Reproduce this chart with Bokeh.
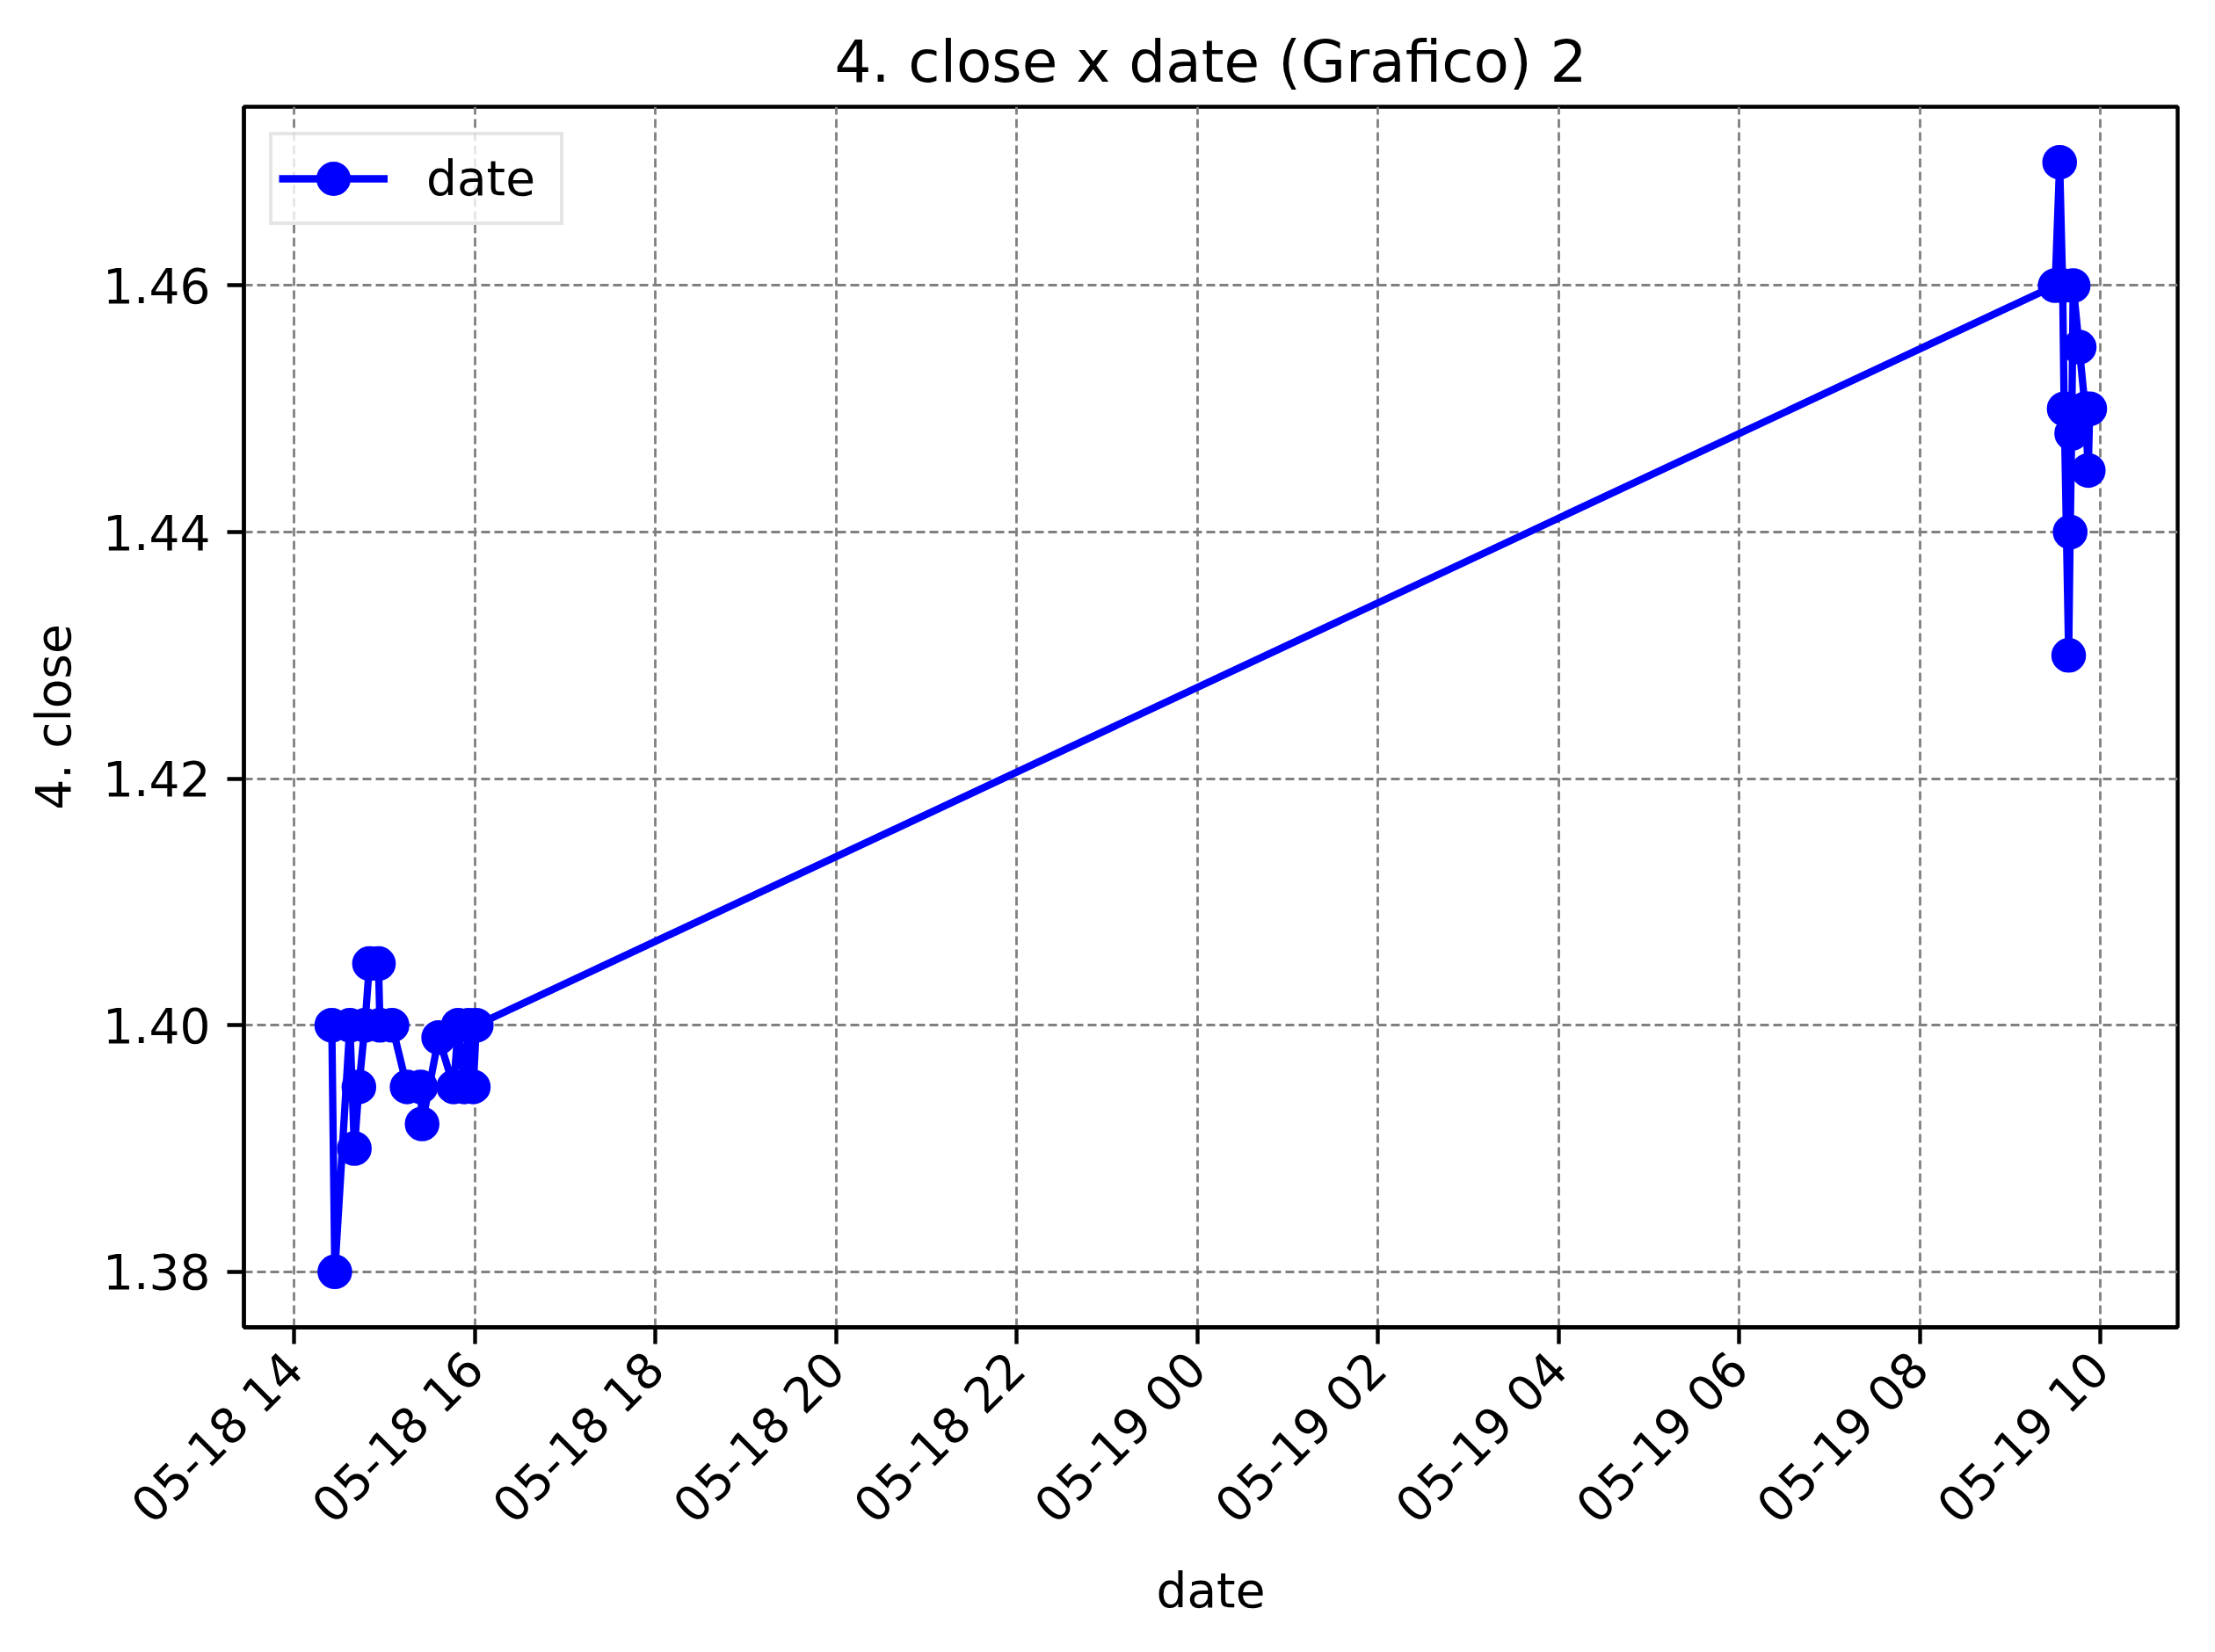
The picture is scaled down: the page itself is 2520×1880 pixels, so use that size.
import math
import pandas as pd
from bokeh.plotting import figure
from bokeh.models import FixedTicker, DatetimeTickFormatter, Range1d, NumeralTickFormatter
from bokeh.embed import file_html
from bokeh.resources import INLINE

# ---- data ----
dates = [
    "2020-05-18 14:25", "2020-05-18 14:27", "2020-05-18 14:37", "2020-05-18 14:40",
    "2020-05-18 14:43", "2020-05-18 14:47", "2020-05-18 14:50", "2020-05-18 14:56",
    "2020-05-18 14:57", "2020-05-18 15:05", "2020-05-18 15:15", "2020-05-18 15:24",
    "2020-05-18 15:25", "2020-05-18 15:36", "2020-05-18 15:46", "2020-05-18 15:49",
    "2020-05-18 15:53", "2020-05-18 15:56", "2020-05-18 15:59", "2020-05-18 16:01",
    "2020-05-19 09:30", "2020-05-19 09:33", "2020-05-19 09:35", "2020-05-19 09:36",
    "2020-05-19 09:39", "2020-05-19 09:40", "2020-05-19 09:41", "2020-05-19 09:42",
    "2020-05-19 09:46", "2020-05-19 09:50", "2020-05-19 09:52", "2020-05-19 09:53",
]
close = [
    1.400, 1.380, 1.400, 1.390,
    1.395, 1.400, 1.405, 1.405,
    1.400, 1.400, 1.395, 1.395,
    1.392, 1.399, 1.395, 1.400,
    1.395, 1.400, 1.395, 1.400,
    1.460, 1.470, 1.460, 1.450,
    1.430, 1.440, 1.448, 1.460,
    1.455, 1.450, 1.445, 1.450,
]
x_ticks = [
    "2020-05-18 14:00", "2020-05-18 16:00", "2020-05-18 18:00", "2020-05-18 20:00",
    "2020-05-18 22:00", "2020-05-19 00:00", "2020-05-19 02:00", "2020-05-19 04:00",
    "2020-05-19 06:00", "2020-05-19 08:00", "2020-05-19 10:00",
]
y_ticks = [1.38, 1.40, 1.42, 1.44, 1.46]

title_text = "4. close x date (Grafico) 2"
x_label = "date"
y_label = "4. close"
series_name = "date"

# ---- build ----
x = pd.to_datetime(dates)
xt = [t.value / 1e6 for t in pd.to_datetime(x_ticks)]
xs_ms = [t.value / 1e6 for t in x]
xspan = max(xs_ms) - min(xs_ms)
yspan = max(close) - min(close)

FONT = "DejaVu Sans"

p = figure(
    width=2504, height=1864,
    x_axis_type="datetime",
    output_backend="svg", toolbar_location=None,
    min_border_left=277, min_border_right=27,
    min_border_top=121, min_border_bottom=354,
    x_range=Range1d(min(xs_ms) - 0.05 * xspan, max(xs_ms) + 0.05 * xspan),
    y_range=Range1d(min(close) - 0.05 * yspan, max(close) + 0.05 * yspan),
)
p.background_fill_color = "white"
p.border_fill_color = "white"
p.outline_line_color = "black"
p.outline_line_width = 4.4

p.title.text = title_text
p.title.align = "center"
p.title.text_font = FONT
p.title.text_font_size = "66px"
p.title.text_font_style = "normal"
p.title.text_color = "black"
p.title.standoff = 26

p.line(x, close, line_color="blue", line_width=8.3, legend_label=series_name)
p.scatter(x, close, size=34, fill_color="blue", line_color="blue", line_width=5.5,
          legend_label=series_name)

p.xaxis.ticker = FixedTicker(ticks=xt)
p.xaxis.formatter = DatetimeTickFormatter(
    hours="%m-%d %H", hourmin="%m-%d %H", days="%m-%d %H", minutes="%m-%d %H",
    minsec="%m-%d %H", context=None,
)
p.xaxis.major_label_orientation = math.pi / 4
p.yaxis.ticker = FixedTicker(ticks=y_ticks)
p.yaxis.formatter = NumeralTickFormatter(format="0.00")
p.xaxis.axis_label = x_label
p.yaxis.axis_label = y_label

for ax in (p.xaxis, p.yaxis):
    ax.axis_line_color = "black"
    ax.axis_line_width = 4.4
    ax.major_tick_line_color = "black"
    ax.major_tick_line_width = 4.4
    ax.major_tick_out = 19
    ax.major_tick_in = 0
    ax.minor_tick_line_color = None
    ax.major_label_text_font = FONT
    ax.major_label_text_font_size = "55px"
    ax.major_label_text_color = "black"
    ax.major_label_standoff = 19
    ax.axis_label_text_font = FONT
    ax.axis_label_text_font_size = "55px"
    ax.axis_label_text_font_style = "normal"
    ax.axis_label_text_color = "black"
p.xaxis.axis_label_standoff = 6
p.yaxis.axis_label_standoff = 21

for g in (p.xgrid, p.ygrid):
    g.grid_line_color = "gray"
    g.grid_line_width = 2.8
    g.grid_line_dash = "10 5"

lg = p.legend[0]
lg.location = "top_left"
lg.margin = 29
lg.padding = 7
lg.spacing = 0
lg.glyph_width = 124
lg.glyph_height = 84
lg.label_height = 84
lg.label_width = 145
lg.label_standoff = 44
lg.label_text_font = FONT
lg.label_text_font_size = "55px"
lg.label_text_color = "black"
lg.border_line_color = "#cccccc"
lg.border_line_width = 4
lg.background_fill_alpha = 0.8

open("out.html", "w").write(file_html(p, INLINE))
